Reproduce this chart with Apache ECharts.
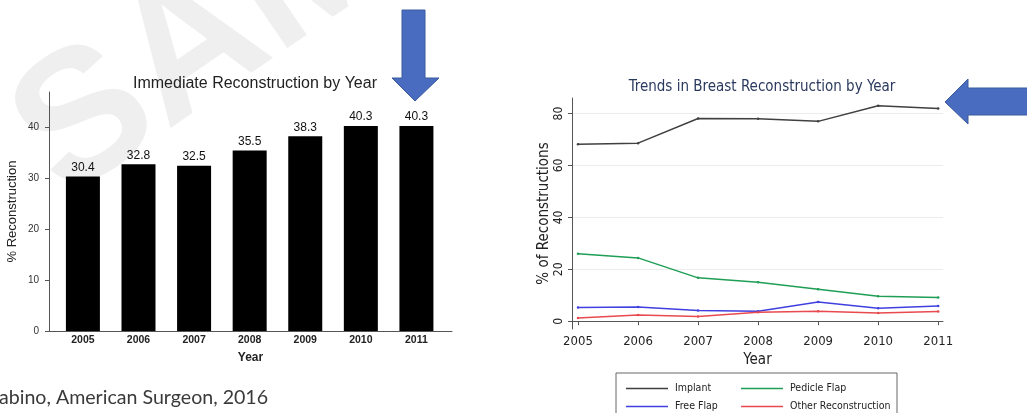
<!DOCTYPE html>
<html>
<head>
<meta charset="utf-8">
<script src="https://cdn.jsdelivr.net/npm/echarts@6/dist/echarts.min.js"></script>
<style>
  html, body { margin: 0; padding: 0; background: #fff; }
  #chart { width: 1027px; height: 413px; }
</style>
</head>
<body>
<div id="chart"></div>
<script>
// values
const years = [2005, 2006, 2007, 2008, 2009, 2010, 2011];
const immediatePct = [30.4, 32.8, 32.5, 35.5, 38.3, 40.3, 40.3];
const implant = [68.2, 68.6, 78.1, 78.0, 77.0, 83.0, 82.0];
const pedicleFlap = [26.0, 24.4, 16.7, 15.0, 12.3, 9.6, 9.1];
const freeFlap = [5.3, 5.5, 4.1, 3.8, 7.4, 5.0, 5.9];
const otherRecon = [1.2, 2.4, 1.8, 3.5, 3.8, 3.2, 3.7];
const leftTicks = [0, 10, 20, 30, 40];
const rightTicks = [0, 20, 40, 60, 80];

const narrow = "'Liberation Sans Narrow', 'DejaVu Sans Condensed', sans-serif";
const sans = "'Liberation Sans', Arial, sans-serif";

const pairs = (vals) => years.map((y, i) => [y, vals[i]]);

const lineSeries = (name, vals, color) => ({
  name: name,
  type: 'line',
  xAxisIndex: 1,
  yAxisIndex: 1,
  data: pairs(vals),
  symbol: 'circle',
  symbolSize: 2.5,
  lineStyle: { color: color, width: 1.5 },
  itemStyle: { color: color },
  emphasis: { disabled: true }
});

// one legend per entry so the 2x2 layout sits where the original has it
const legendItem = (name, left, top) => ({
  data: [name],
  left: left, top: top,
  icon: 'rect', itemWidth: 42, itemHeight: 1.5,
  textStyle: { fontFamily: narrow, fontSize: 10.5, color: '#222', padding: [0, 0, 0, 2] }
});

const chart = echarts.init(document.getElementById('chart'));

const option = {
  animation: false,
  backgroundColor: '#fff',
  title: [
    {
      text: 'Immediate Reconstruction by Year',
      left: 250, top: 71, textAlign: 'center',
      textStyle: { fontFamily: sans, fontSize: 16, fontWeight: 'normal', color: '#222' }
    },
    {
      text: 'Trends in Breast Reconstruction by Year',
      left: 757, top: 75, textAlign: 'center',
      textStyle: { fontFamily: narrow, fontSize: 15, fontWeight: 'normal', color: '#2a3a5e' }
    }
  ],
  grid: [
    { left: 49, right: 575, top: 92, bottom: 82 },
    { left: 572, right: 84, top: 98, bottom: 84 }
  ],
  xAxis: [
    {
      type: 'value', gridIndex: 0,
      min: 2004.39, max: 2011.64,
      name: 'Year', nameLocation: 'middle', nameGap: 21,
      nameTextStyle: { fontFamily: sans, fontSize: 12, fontWeight: 'bold', color: '#222' },
      axisLine: { lineStyle: { color: '#555' } },
      axisTick: { show: false },
      splitLine: { show: false },
      axisLabel: {
        customValues: years, margin: 4,
        fontFamily: sans, fontSize: 10.5, fontWeight: 'bold', color: '#222',
        formatter: (v) => String(v)
      }
    },
    {
      type: 'value', gridIndex: 1,
      min: 2004.9, max: 2011.08,
      name: 'Year', nameLocation: 'middle', nameGap: 21,
      nameTextStyle: { fontFamily: narrow, fontSize: 15, color: '#222' },
      axisLine: { lineStyle: { color: '#555' } },
      axisTick: { customValues: years, length: 4, lineStyle: { color: '#555' } },
      splitLine: { show: false },
      axisLabel: {
        customValues: years, margin: 6,
        fontFamily: narrow, fontSize: 13, color: '#222',
        formatter: (v) => String(v)
      }
    }
  ],
  yAxis: [
    {
      type: 'value', gridIndex: 0,
      min: 0, max: 47,
      name: '% Reconstruction', nameLocation: 'middle', nameGap: 30,
      nameTextStyle: { fontFamily: sans, fontSize: 13, color: '#222' },
      axisLine: { show: true, lineStyle: { color: '#555' } },
      axisTick: { show: true, customValues: leftTicks, length: 4, lineStyle: { color: '#555' } },
      splitLine: { show: false },
      axisLabel: {
        customValues: leftTicks, margin: 10,
        fontFamily: sans, fontSize: 10, color: '#333'
      }
    },
    {
      type: 'value', gridIndex: 1,
      min: -3, max: 86,
      name: '% of Reconstructions', nameLocation: 'middle', nameGap: 16,
      nameTextStyle: { fontFamily: narrow, fontSize: 15, color: '#222' },
      axisLine: { show: true, lineStyle: { color: '#555' } },
      axisTick: { show: true, customValues: rightTicks, length: 4, lineStyle: { color: '#555' } },
      splitLine: { show: true, lineStyle: { color: '#ececec', width: 1 } },
      axisLabel: {
        customValues: rightTicks, rotate: 90, margin: 7,
        fontFamily: narrow, fontSize: 12, color: '#222'
      }
    }
  ],
  legend: [
    legendItem('Implant', 621, 378),
    legendItem('Free Flap', 621, 396),
    legendItem('Pedicle Flap', 736, 378),
    legendItem('Other Reconstruction', 736, 396)
  ],
  series: [
    {
      name: 'Immediate', type: 'bar',
      xAxisIndex: 0, yAxisIndex: 0,
      data: pairs(immediatePct),
      barWidth: 34,
      itemStyle: { color: '#000' },
      label: {
        show: true, position: 'top', distance: 3,
        fontFamily: sans, fontSize: 12, color: '#111',
        formatter: (p) => p.value[1].toFixed(1)
      },
      emphasis: { disabled: true }
    },
    lineSeries('Implant', implant, '#404040'),
    lineSeries('Pedicle Flap', pedicleFlap, '#1f9e55'),
    lineSeries('Free Flap', freeFlap, '#4040e0'),
    lineSeries('Other Reconstruction', otherRecon, '#e84a4f')
  ],
  graphic: [
    // faint watermark
    {
      type: 'text', x: 36, y: 158, rotation: 0.6, z: -10, silent: true,
      style: { text: 'SAMPLE', font: 'bold 185px Liberation Sans', fill: '#efefef', verticalAlign: 'middle' }
    },
    // legend frame
    {
      type: 'rect', z: 1, silent: true,
      shape: { x: 616, y: 373, width: 281, height: 60 },
      style: { fill: 'none', stroke: '#666', lineWidth: 1 }
    },
    // blue call-out arrows
    {
      type: 'polygon', z: 20, silent: true,
      shape: { points: [[402, 10], [425, 10], [425, 78], [439, 78], [415, 101], [392, 78], [402, 78]] },
      style: { fill: '#4a6cc0', stroke: '#3b5a9c', lineWidth: 1 }
    },
    {
      type: 'polygon', z: 20, silent: true,
      shape: { points: [[945, 102], [968, 79], [968, 88], [1030, 88], [1030, 115], [968, 115], [968, 124]] },
      style: { fill: '#4a6cc0', stroke: '#3b5a9c', lineWidth: 1 }
    },
    // source line at the bottom left
    {
      type: 'text', x: -1, y: 398, silent: true,
      style: { text: 'abino, American Surgeon, 2016', font: '19.6px Lato', fill: '#3a3a3a', verticalAlign: 'middle' }
    }
  ]
};

chart.setOption(option);
</script>
</body>
</html>
